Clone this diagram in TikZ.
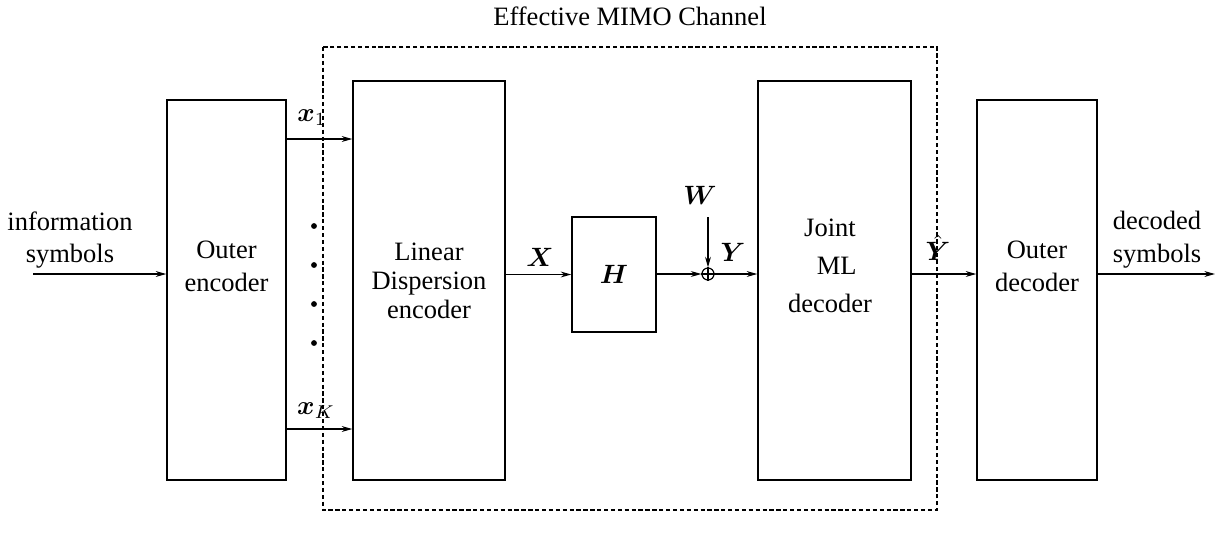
\documentclass[tikz,border=0pt]{standalone}
\usepackage{amsmath}
\usepackage{fontspec}
\setmainfont{Liberation Serif}
\usetikzlibrary{arrows.meta,calc}

\begin{document}
\begin{tikzpicture}[
  x=0.3774pt, y=-0.3774pt,
  font=\fontsize{10}{12.4}\selectfont,
  >={Stealth[length=4pt,width=2.2pt]},
  blk/.style={draw, line width=0.5pt, inner sep=0pt, anchor=center},
  lbl/.style={align=center, inner sep=0pt, anchor=center},
  flow/.style={->, line width=0.45pt},
  dotmark/.style={circle, fill, inner sep=0pt, minimum size=2.2pt}
]
\useasboundingbox (0,0) rectangle (1229,546);

% blocks of the chain
\node[blk, minimum width=119*0.3774pt, minimum height=380*0.3774pt] (oenc) at (226.5,290) {};
\node[blk, minimum width=152*0.3774pt, minimum height=399*0.3774pt] (ldenc) at (429,280.5) {};
\node[blk, minimum width=84*0.3774pt, minimum height=115*0.3774pt] (chan) at (614,274.5) {$\boldsymbol{H}$};
\node[blk, minimum width=153*0.3774pt, minimum height=399*0.3774pt] (mldec) at (834.5,280.5) {};
\node[blk, minimum width=120*0.3774pt, minimum height=380*0.3774pt] (odec) at (1037,290) {};

\node[lbl] (oenc-txt) at (226.5,266) {Outer\\encoder};
\node[lbl, font=\fontsize{10}{11}\selectfont] (ldenc-txt) at (429,281) {Linear\\Dispersion\\encoder};
\node[lbl, font=\fontsize{10}{14.3}\selectfont] (mldec-txt) at (830,266) {Joint\\\ \ ML\\decoder};
\node[lbl] (odec-txt) at (1037,266) {Outer\\decoder};

% dashed frame of the effective channel
\draw[line width=0.5pt, dash pattern=on 1.6pt off 1pt] (323,47) rectangle (937,510);
\node[lbl] (mimo) at (630,16) {Effective MIMO Channel};

% adder
\node[draw, circle, line width=0.45pt, inner sep=0pt, minimum size=12*0.3774pt] (sum) at (708,274) {};
\draw[line width=0.45pt] (sum.north) -- (sum.south) (sum.west) -- (sum.east);

\coordinate (in) at (33,274);
\coordinate (out) at (1215,274);
\coordinate (wtop) at (708,217);
\coordinate (x1) at (286,139);
\coordinate (xK) at (286,429);

% connectors
\draw[flow] (in) -- (oenc.west |- in);
\draw[flow] (oenc.east |- x1) -- (ldenc.west |- x1);
\draw[flow] (oenc.east |- xK) -- (ldenc.west |- xK);
\draw[flow] (ldenc.east |- chan) -- (chan.west);
\draw[flow] (chan.east |- sum) -- (sum.west);
\draw[flow] (wtop) -- (sum.north);
\draw[flow] (sum.east) -- (mldec.west |- sum);
\draw[flow] (mldec.east |- sum) -- (odec.west |- sum);
\draw[flow] (odec.east |- out) -- (out);

% labels
\node[lbl] (in-txt) at (70,240) {information\\symbols};
\node[lbl] (out-txt) at (1157,240) {decoded\\symbols};
\node[lbl] (x1-txt) at (312,118) {$\boldsymbol{x}_1$};
\node[lbl] (xK-txt) at (316,411) {$\boldsymbol{x}_K$};
\node[lbl] (X-txt) at (540,257) {$\boldsymbol{X}$};
\node[lbl] (W-txt) at (700,195) {$\boldsymbol{W}$};
\node[lbl] (Y-txt) at (733,252) {$\boldsymbol{Y}$};
\node[lbl] (Yh-txt) at (938,248) {$\hat{\boldsymbol{Y}}$};

% dots between x_1 and x_K
\foreach \yy in {226,265,304,343}
  \node[dotmark] (dot\yy) at (314,\yy) {};
\end{tikzpicture}
\end{document}
